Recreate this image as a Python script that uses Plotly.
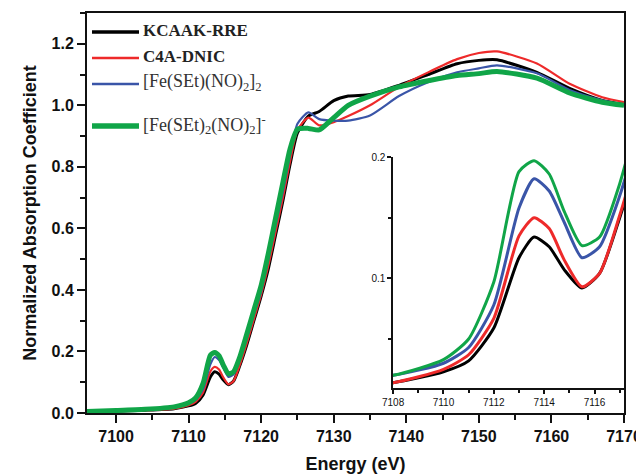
import plotly.graph_objects as go

# ---- data ----
energy = [7096, 7100, 7104, 7108, 7110, 7111, 7112, 7113, 7113.6, 7114.2, 7114.8,
          7115.5, 7116.2, 7117, 7118, 7119, 7120, 7121, 7122, 7123, 7124, 7125,
          7126.5, 7128, 7130, 7132, 7135, 7139, 7143, 7147, 7150, 7152.5, 7158,
          7162.5, 7167, 7170]

kcaak = [0.004, 0.006, 0.009, 0.014, 0.023, 0.032, 0.059, 0.117, 0.134, 0.126, 0.107,
         0.092, 0.104, 0.150, 0.220, 0.300, 0.380, 0.470, 0.580, 0.690, 0.810, 0.910,
         0.965, 0.980, 1.015, 1.030, 1.035, 1.065, 1.100, 1.135, 1.146, 1.148, 1.107,
         1.055, 1.016, 1.003]

c4a = [0.004, 0.006, 0.009, 0.014, 0.025, 0.037, 0.067, 0.135, 0.150, 0.141, 0.115,
       0.093, 0.104, 0.152, 0.225, 0.305, 0.385, 0.480, 0.590, 0.700, 0.820, 0.920,
       0.960, 0.935, 0.945, 0.965, 1.000, 1.060, 1.107, 1.150, 1.170, 1.175, 1.136,
       1.070, 1.026, 1.010]

fe_dimer = [0.005, 0.008, 0.012, 0.020, 0.030, 0.043, 0.078, 0.158, 0.182, 0.172, 0.146,
            0.117, 0.126, 0.168, 0.240, 0.320, 0.395, 0.500, 0.610, 0.720, 0.840, 0.940,
            0.977, 0.955, 0.950, 0.950, 0.967, 1.030, 1.075, 1.107, 1.120, 1.130, 1.104,
            1.050, 1.016, 1.000]

fe_anion = [0.005, 0.008, 0.012, 0.020, 0.033, 0.050, 0.097, 0.188, 0.197, 0.186, 0.155,
            0.127, 0.134, 0.178, 0.255, 0.335, 0.415, 0.520, 0.635, 0.750, 0.860, 0.922,
            0.925, 0.920, 0.960, 1.000, 1.030, 1.060, 1.080, 1.097, 1.103, 1.110, 1.088,
            1.040, 1.010, 1.000]

series_names = ["KCAAK-RRE", "C4A-DNIC",
                "[Fe(SEt)(NO)<sub>2</sub>]<sub>2</sub>",
                "[Fe(SEt)<sub>2</sub>(NO)<sub>2</sub>]<sup>-</sup>"]
series_values = [kcaak, c4a, fe_dimer, fe_anion]
colors = ["#000000", "#ee2a2a", "#3a55a8", "#10a548"]
widths = [3, 2.2, 2.2, 5]
inset_widths = [3, 3, 3, 3]

x_main_ticks = [7100, 7110, 7120, 7130, 7140, 7150, 7160, 7170]
y_main_ticks = [0.0, 0.2, 0.4, 0.6, 0.8, 1.0, 1.2]
x_inset_ticks = [7108, 7110, 7112, 7114, 7116]
y_inset_ticks = [0.1, 0.2]

fig = go.Figure()

for name, vals, c, w in zip(series_names, series_values, colors, widths):
    fig.add_trace(go.Scatter(x=energy, y=vals, mode="lines", name=name,
                             line=dict(color=c, width=w, shape="spline", smoothing=0.6),
                             xaxis="x", yaxis="y", showlegend=False))

for name, vals, c, w in zip(series_names, series_values, colors, inset_widths):
    fig.add_trace(go.Scatter(x=energy, y=vals, mode="lines", name=name,
                             line=dict(color=c, width=w, shape="spline", smoothing=0.6),
                             xaxis="x2", yaxis="y2", showlegend=False))

axis_font = dict(family="Liberation Sans, Arial", size=16, color="#111", weight="bold")

# the page body adds an 8px offset, so the figure is 8px smaller than the window
fig.update_layout(
    width=636, height=467,
    margin=dict(l=79, r=20, t=5, b=62, autoexpand=False),
    paper_bgcolor="white", plot_bgcolor="white",
    showlegend=False,
    xaxis=dict(range=[7096, 7170], tickvals=x_main_ticks, ticks="outside", ticklen=8,
               tickwidth=2, tickcolor="#111", showline=True, linewidth=2, linecolor="#111",
               mirror=True, showgrid=False, zeroline=False, tickfont=axis_font,
               automargin=False,
               minor=dict(dtick=5, tick0=7095, ticks="outside", ticklen=5, tickwidth=2,
                          tickcolor="#111", showgrid=False),
               title=dict(text="Energy (eV)", standoff=13,
                          font=dict(family="Liberation Sans, Arial", size=18,
                                    color="#111", weight="bold"))),
    yaxis=dict(range=[0, 1.3], tickvals=y_main_ticks, tickformat=".1f", ticks="outside",
               ticklen=8, tickwidth=2, tickcolor="#111", showline=True, linewidth=2,
               linecolor="#111", mirror=True, showgrid=False, zeroline=False,
               tickfont=axis_font, automargin=False,
               minor=dict(dtick=0.1, tick0=0, ticks="outside", ticklen=5, tickwidth=2,
                          tickcolor="#111", showgrid=False),
               title=dict(text="Normalized Absorption Coefficient", standoff=10,
                          font=dict(family="Liberation Sans, Arial", size=18,
                                    color="#111", weight="bold"))),
    xaxis2=dict(domain=[0.570, 1.0], anchor="y2", range=[7108, 7117.17],
                tickvals=x_inset_ticks, ticks="outside", ticklen=4, tickwidth=1.5,
                tickcolor="#111", showline=True, linewidth=2, linecolor="#111",
                showgrid=False, zeroline=False, automargin=False,
                tickfont=dict(family="Liberation Sans, Arial", size=10, color="#111"),
                minor=dict(dtick=1, tick0=7108, ticks="outside", ticklen=3, tickwidth=1.5,
                           tickcolor="#111", showgrid=False)),
    yaxis2=dict(domain=[0.0625, 0.64], anchor="x2", range=[0.0096, 0.2],
                tickvals=y_inset_ticks, tickformat=".1f", ticks="outside", ticklen=4,
                tickwidth=1.5, tickcolor="#111", showline=True, linewidth=1.5,
                linecolor="#111", showgrid=False, zeroline=False, automargin=False,
                tickfont=dict(family="Liberation Sans, Arial", size=10, color="#111"),
                minor=dict(dtick=0.05, tick0=0.0, ticks="outside", ticklen=3,
                           tickwidth=1.5, tickcolor="#111", showgrid=False)),
)

# legend drawn as line samples + labels (plot area: 537 x 400 px, screen y 13..413, x 87..624)
legend_y = [32, 58, 84, 126]
legend_fonts = [
    dict(family="Liberation Serif, Times New Roman", size=17, color="#222", weight="bold"),
    dict(family="Liberation Serif, Times New Roman", size=17, color="#222", weight="bold"),
    dict(family="Liberation Serif, Times New Roman", size=18, color="#333"),
    dict(family="Liberation Serif, Times New Roman", size=18, color="#333"),
]
for name, c, w, py, f in zip(series_names, colors, widths, legend_y, legend_fonts):
    yy = (413 - py) / 400
    fig.add_shape(type="line", xref="paper", yref="paper",
                  x0=(92 - 87) / 537, x1=(139 - 87) / 537, y0=yy, y1=yy,
                  line=dict(color=c, width=w + 0.5))
    fig.add_annotation(xref="paper", yref="paper", x=(141 - 87) / 537, y=yy + 0.004,
                       xanchor="left", yanchor="middle", text=name, showarrow=False,
                       font=f)

fig.write_html("out.html")
